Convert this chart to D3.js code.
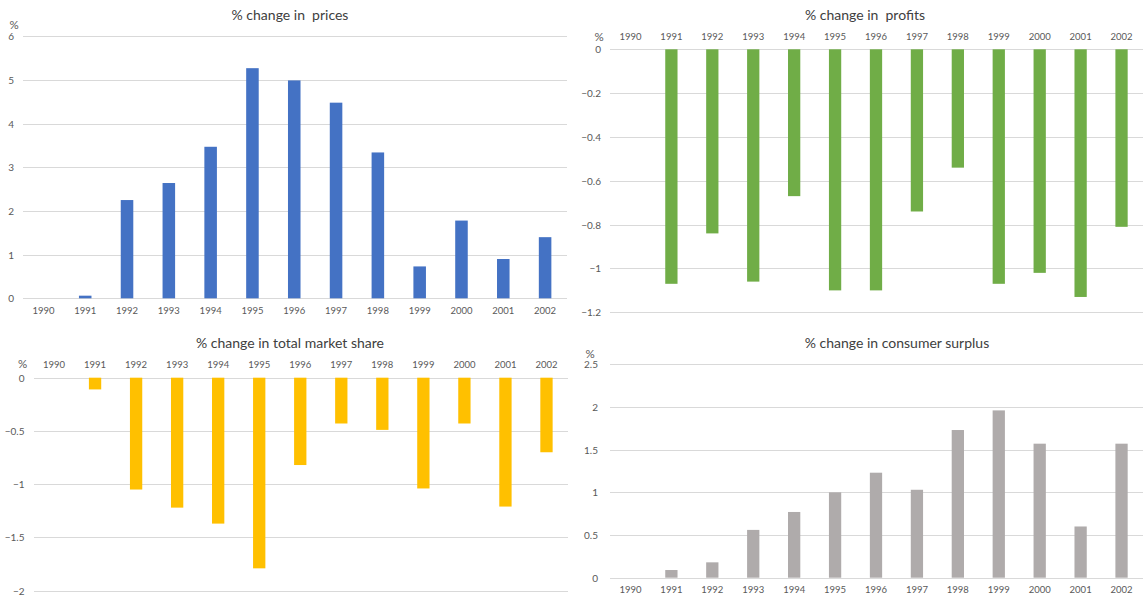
<!DOCTYPE html>
<html>
<head>
<meta charset="utf-8">
<script src="https://cdn.jsdelivr.net/npm/d3@7"></script>
<style>
  html, body { margin: 0; padding: 0; background: #fff; }
  svg { display: block; font-family: Lato, "Open Sans", sans-serif; }
  .grid line { stroke: #d9d9d9; stroke-width: 1; shape-rendering: crispEdges; }
  .tick text { fill: #595959; }
  .title { fill: #404040; white-space: pre; }
</style>
</head>
<body>
<svg id="chart" width="1143" height="596"></svg>
<script>
// Years shared by all four panels
const years = ["1990", "1991", "1992", "1993", "1994", "1995", "1996",
               "1997", "1998", "1999", "2000", "2001", "2002"];

// % change in prices
const priceChange = [0, 0.06, 2.25, 2.64, 3.47, 5.27, 4.99, 4.48, 3.34, 0.73, 1.78, 0.90, 1.40];
const priceTicks = [0, 1, 2, 3, 4, 5, 6];

// % change in profits
const profitChange = [0, -1.07, -0.84, -1.06, -0.67, -1.10, -1.10, -0.74, -0.54, -1.07, -1.02, -1.13, -0.81];
const profitTicks = [0, -0.2, -0.4, -0.6, -0.8, -1, -1.2];

// % change in total market share
const marketShareChange = [0, -0.11, -1.05, -1.22, -1.37, -1.79, -0.82, -0.43, -0.49, -1.04, -0.43, -1.21, -0.70];
const marketShareTicks = [0, -0.5, -1, -1.5, -2];

// % change in consumer surplus
const surplusChange = [0, 0.09, 0.18, 0.56, 0.77, 1.00, 1.23, 1.03, 1.73, 1.96, 1.57, 0.60, 1.57];
const surplusTicks = [0, 0.5, 1, 1.5, 2, 2.5];

const panels = [
  { title: "% change in  prices", values: priceChange, ticks: priceTicks, color: "#4472c4",
    domain: [0, 6], x0: 22.5, x1: 566, yTop: 36.3, yBottom: 298.3,
    titleX: 290, titleY: 15, yearY: 311, pctX: 14, pctY: 25, tickEnd: 14 },
  { title: "% change in  profits", values: profitChange, ticks: profitTicks, color: "#70ad47",
    domain: [-1.2, 0], x0: 610, x1: 1142, yTop: 49.3, yBottom: 312.3,
    titleX: 865, titleY: 15, yearY: 37, pctX: 599, pctY: 37, tickEnd: 601 },
  { title: "% change in total market share", values: marketShareChange, ticks: marketShareTicks, color: "#ffc000",
    domain: [-2, 0], x0: 33.5, x1: 567, yTop: 377.7, yBottom: 590.7,
    titleX: 290, titleY: 343, yearY: 364.5, pctX: 22.5, pctY: 363.5, tickEnd: 24.5 },
  { title: "% change in consumer surplus", values: surplusChange, ticks: surplusTicks, color: "#afabab",
    domain: [0, 2.5], x0: 610, x1: 1142, yTop: 364.3, yBottom: 577.7,
    titleX: 897, titleY: 343.5, yearY: 589.5, pctX: 590, pctY: 353.5, tickEnd: 598 }
];

const svg = d3.select("#chart");

panels.forEach(p => {
  const g = svg.append("g");

  const x = d3.scaleBand()
    .domain(years)
    .range([p.x0, p.x1])
    .paddingInner(0.7)
    .paddingOuter(0.35);

  const y = d3.scaleLinear()
    .domain(p.domain)
    .range([p.yBottom, p.yTop]);

  // horizontal gridlines with value labels on the left
  const gridWidth = p.x1 - p.x0 + 1;
  const yAxis = d3.axisLeft(y)
    .tickValues(p.ticks)
    .tickFormat(d3.format("~g"))
    .tickSizeInner(-gridWidth)
    .tickSizeOuter(0)
    .tickPadding(0);

  const yg = g.append("g")
    .attr("class", "grid")
    .attr("transform", `translate(${p.x0},0)`)
    .call(yAxis);
  yg.select(".domain").remove();
  yg.selectAll(".tick text")
    .attr("x", p.tickEnd - p.x0)
    .attr("dy", "0.35em")
    .style("font-size", "10px")
    .style("font-family", "Lato, sans-serif");

  // bars from zero
  g.append("g")
    .selectAll("rect")
    .data(years.map((yr, i) => ({ yr, v: p.values[i] })))
    .join("rect")
    .attr("x", d => x(d.yr))
    .attr("width", x.bandwidth())
    .attr("y", d => y(Math.max(0, d.v)))
    .attr("height", d => Math.abs(y(d.v) - y(0)))
    .attr("fill", p.color);

  // year labels
  const xAxis = d3.axisBottom(x).tickSize(0).tickPadding(0);
  const xg = g.append("g")
    .attr("transform", `translate(0,${p.yearY})`)
    .call(xAxis);
  xg.select(".domain").remove();
  xg.selectAll(".tick text")
    .attr("y", 0)
    .attr("dy", "0.35em")
    .style("font-size", "9.5px")
    .style("font-family", "Lato, sans-serif");

  // unit marker
  g.append("text")
    .attr("x", p.pctX)
    .attr("y", p.pctY)
    .attr("dy", "0.35em")
    .attr("text-anchor", "middle")
    .attr("fill", "#595959")
    .style("font-size", "11.5px")
    .text("%");

  // panel title
  g.append("text")
    .attr("class", "title")
    .attr("x", p.titleX)
    .attr("y", p.titleY)
    .attr("dy", "0.35em")
    .attr("text-anchor", "middle")
    .attr("xml:space", "preserve")
    .style("font-size", "14px")
    .text(p.title);
});
</script>
</body>
</html>
